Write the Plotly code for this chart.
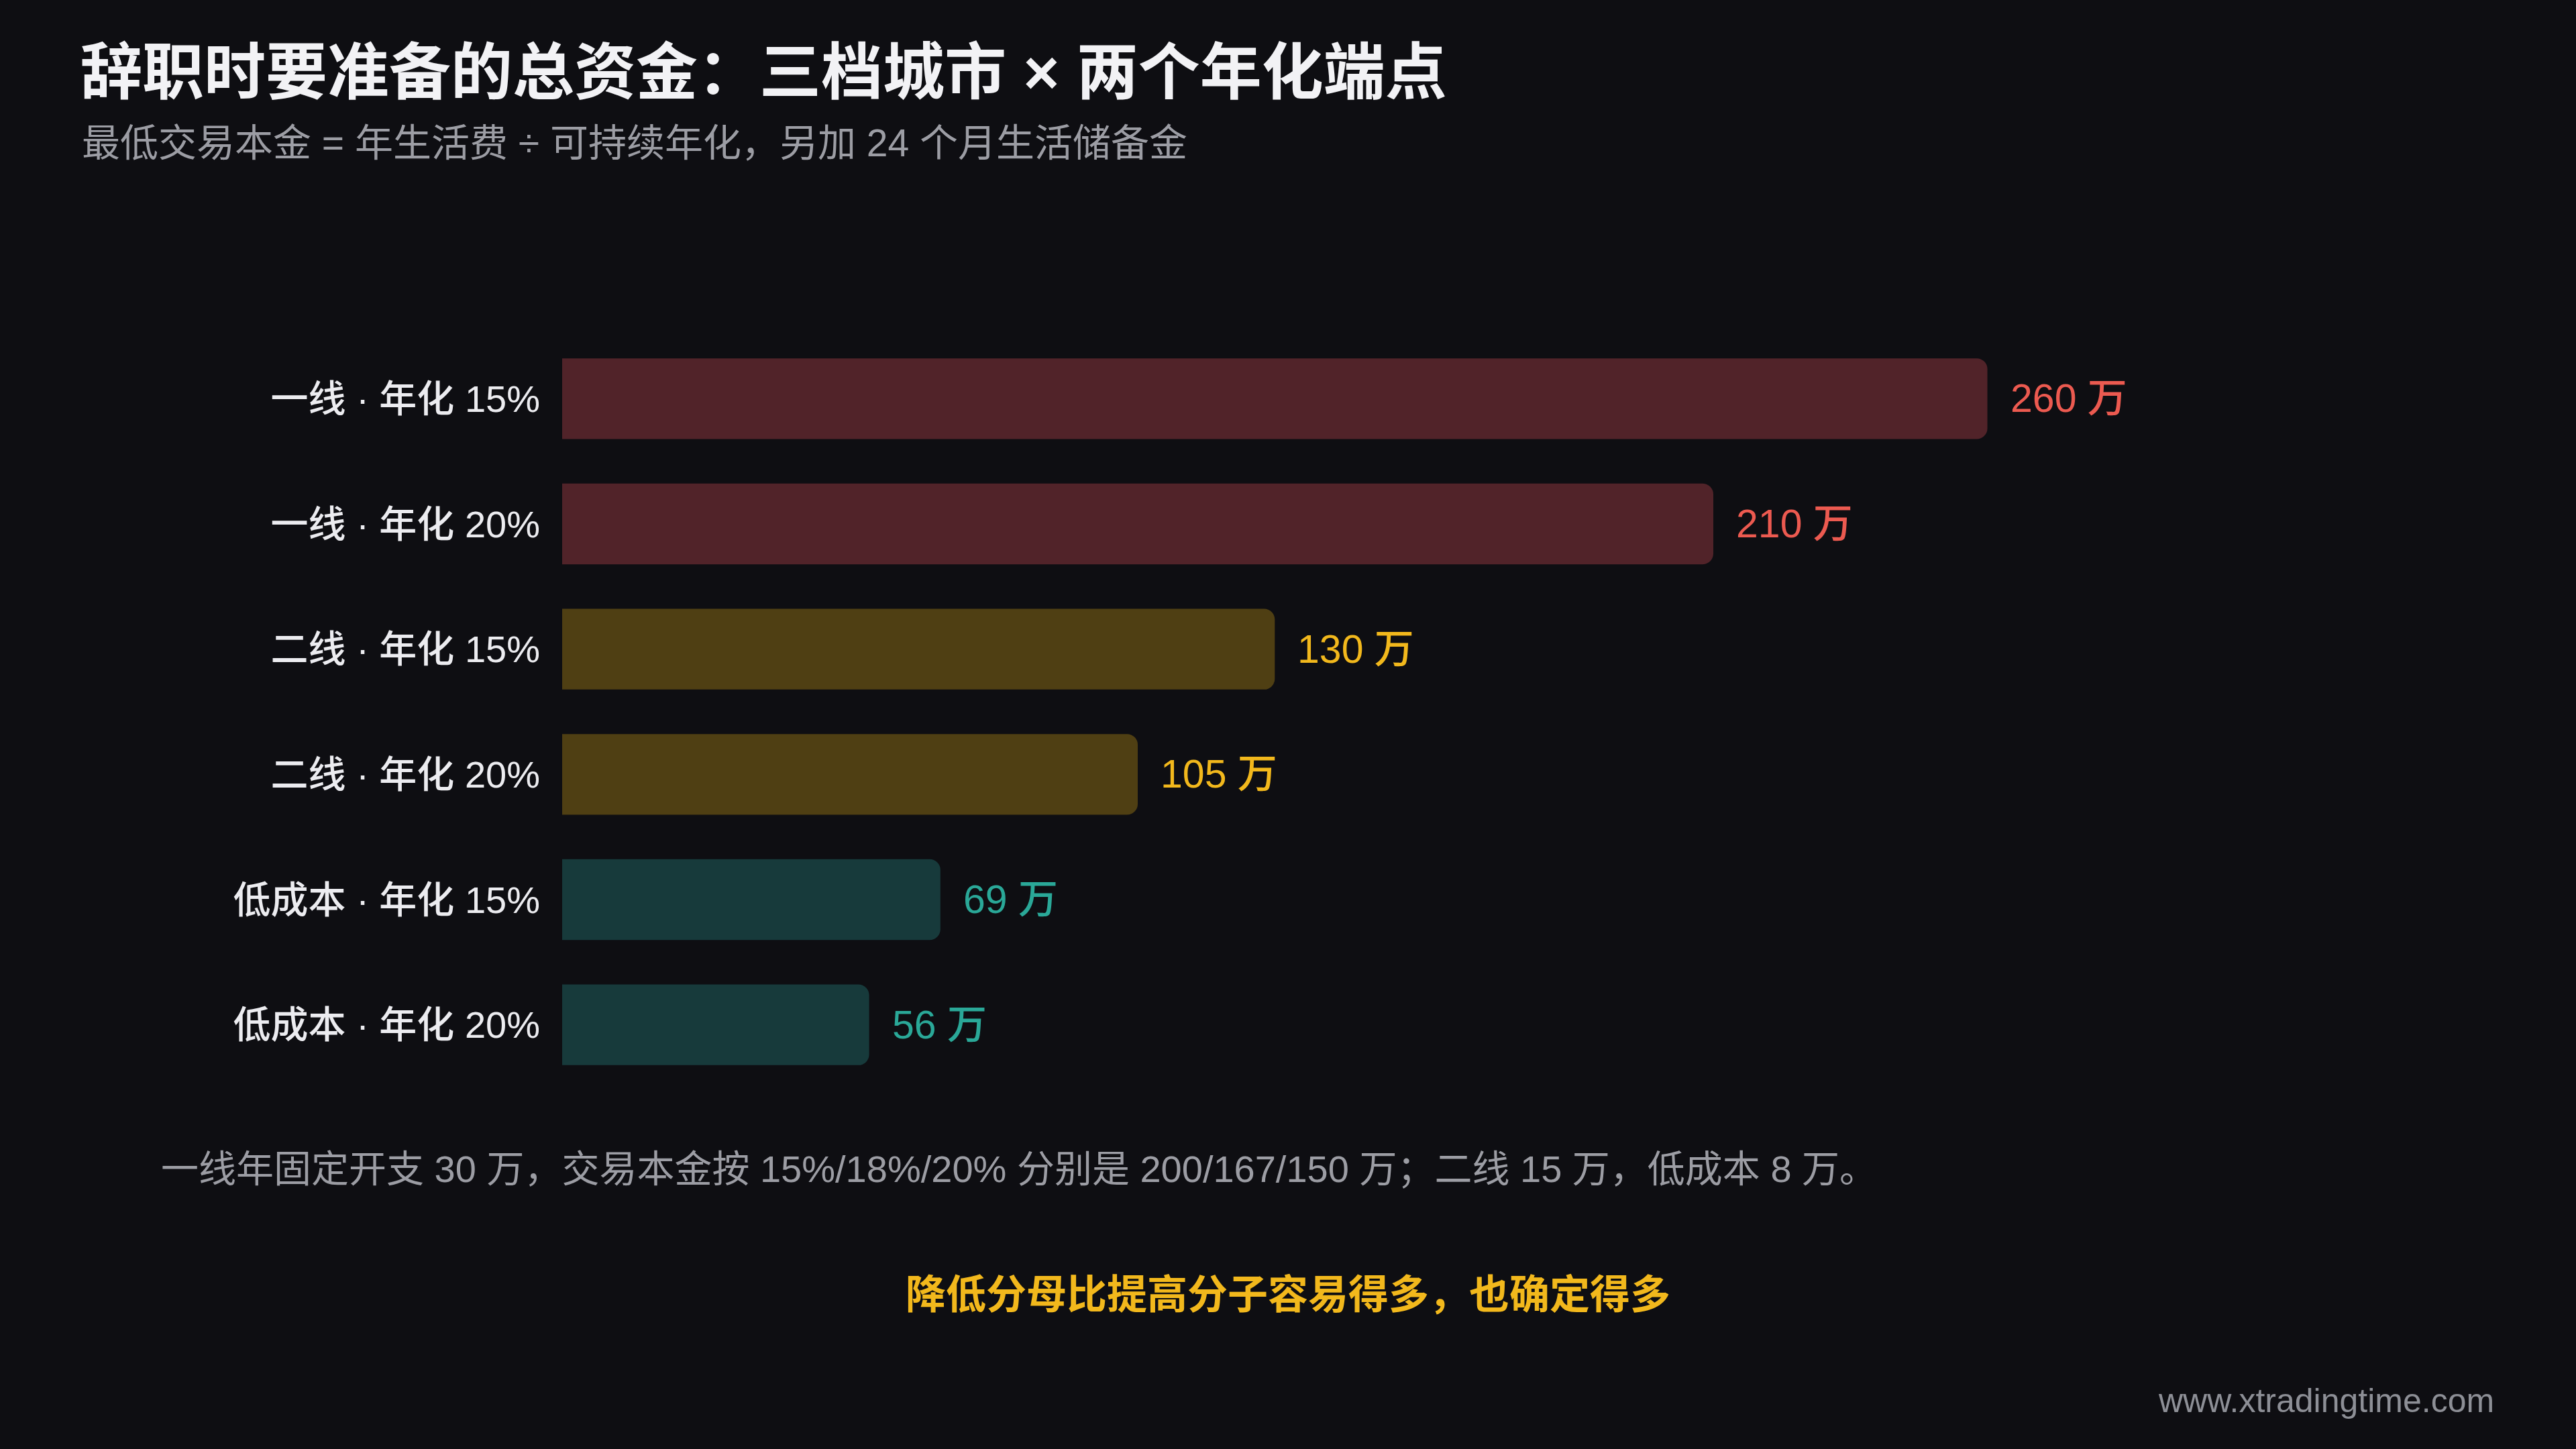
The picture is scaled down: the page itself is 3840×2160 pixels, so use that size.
import plotly.graph_objects as go

# ---- data ----
categories = ["一线 · 年化 15%", "一线 · 年化 20%", "二线 · 年化 15%",
              "二线 · 年化 20%", "低成本 · 年化 15%", "低成本 · 年化 20%"]
values = [260, 210, 130, 105, 69, 56]
value_labels = ["260 万", "210 万", "130 万", "105 万", "69 万", "56 万"]
bar_colors = ["#512329", "#512329", "#4f3f13", "#4f3f13", "#173a3b", "#173a3b"]
label_colors = ["#ec5a50", "#ec5a50", "#f2b81c", "#f2b81c", "#2aa898", "#2aa898"]

title_text = "辞职时要准备的总资金：三档城市 × 两个年化端点"
subtitle_text = "最低交易本金 = 年生活费 ÷ 可持续年化，另加 24 个月生活储备金"
footnote_text = "一线年固定开支 30 万，交易本金按 15%/18%/20% 分别是 200/167/150 万；二线 15 万，低成本 8 万。"
highlight_text = "降低分母比提高分子容易得多，也确定得多"
watermark_text = "www.xtradingtime.com"

# ---- layout geometry ----
FW, FH = 3840, 2160
L, T = 838, 501
XMAX = 350
PW = 2860
PH = 1120
R = FW - L - PW
B = FH - T - PH
BG = "#0e0e12"
FONT = "Liberation Sans, Noto Sans CJK SC, sans-serif"


def px(x):
    return (x - L) / PW


def py(y):
    return (FH - B - y) / PH


fig = go.Figure()
fig.add_trace(go.Bar(
    x=values, y=categories, orientation="h",
    marker=dict(color=bar_colors, line=dict(width=0), cornerradius=16),
    width=0.645, hoverinfo="skip", showlegend=False,
))

annotations = []
for v, lab, col, cat in zip(values, value_labels, label_colors, categories):
    annotations.append(dict(
        x=v, y=cat, xref="x", yref="y", text=lab, showarrow=False,
        xanchor="left", yanchor="middle", xshift=32,
        font=dict(family=FONT, size=59, color=col, weight=500),
    ))

annotations += [
    dict(x=px(118), y=py(108), xref="paper", yref="paper", text=title_text,
         showarrow=False, xanchor="left", yanchor="middle",
         font=dict(family=FONT, size=92, color="#f2f2f5", weight=700)),
    dict(x=px(120), y=py(213), xref="paper", yref="paper", text=subtitle_text,
         showarrow=False, xanchor="left", yanchor="middle",
         font=dict(family=FONT, size=57, color="#9c9da4")),
    dict(x=px(238), y=py(1742), xref="paper", yref="paper", text=footnote_text,
         showarrow=False, xanchor="left", yanchor="middle",
         font=dict(family=FONT, size=56, color="#9c9da4")),
    dict(x=px(1920), y=py(1930), xref="paper", yref="paper", text=highlight_text,
         showarrow=False, xanchor="center", yanchor="middle",
         font=dict(family=FONT, size=60, color="#f2b81c", weight=700)),
    dict(x=px(3720), y=py(2088), xref="paper", yref="paper", text=watermark_text,
         showarrow=False, xanchor="right", yanchor="middle",
         font=dict(family=FONT, size=50, color="#8d8f96")),
]

fig.update_layout(
    width=FW, height=FH,
    margin=dict(l=L, r=R, t=T, b=B, pad=0),
    paper_bgcolor=BG, plot_bgcolor=BG,
    xaxis=dict(range=[0, XMAX], visible=False, showgrid=False, zeroline=False),
    yaxis=dict(
        type="category", categoryorder="array", categoryarray=categories,
        range=[5.5, -0.5], showgrid=False, zeroline=False, showline=False,
        ticks="", ticklabelstandoff=32,
        tickfont=dict(family=FONT, size=56, color="#ececf0", weight=500),
    ),
    annotations=annotations,
    bargap=0.355,
)

fig.write_html(
    "out.html",
    config={"displayModeBar": False},
    post_script="document.body.style.margin='0';document.body.style.background='#0e0e12';",
)
